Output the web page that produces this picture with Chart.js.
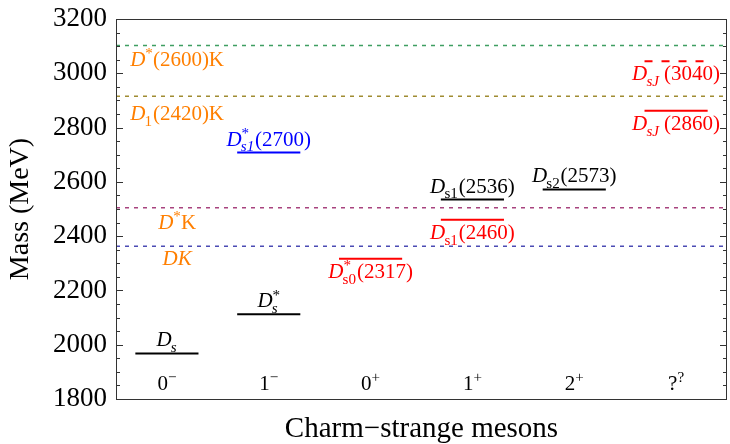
<!DOCTYPE html>
<html>
<head>
<meta charset="utf-8">
<script src="https://cdn.jsdelivr.net/npm/chart.js@4.4.1/dist/chart.umd.min.js"></script>
<style>
  html, body { margin: 0; padding: 0; background: #fff; }
  canvas { display: block; }
</style>
</head>
<body>
<canvas id="chart" width="730" height="444"></canvas>
<script>
// J^P columns along the x axis
const spins = ['0', '1', '0', '1', '2', '?'];
const parities = ['\u2212', '\u2212', '+', '+', '+', '?'];

// observed charm-strange states (markup: i: italic, b: sub, bi: italic sub, p: sup, n: normal)
const stateNames = [
  'i:D|bi:s',
  'i:D|p:*|bi:s',
  'i:D|p:*|b:s0|n:(2317)',
  'i:D|b:s1|n:(2460)',
  'i:D|b:s1|n:(2536)',
  'i:D|b:s2|n:(2573)',
  'i:D|p:*|bi:s1|n:(2700)',
  'i:D|bi:sJ|n:\u2009(2860)',
  'i:D|bi:sJ|n:\u2009(3040)'
];
const stateMasses = [1968, 2112, 2317, 2460, 2535, 2572, 2708, 2862, 3044];
const stateColumn = [0, 1, 2, 3, 3, 4, 1, 5, 5];

// two-body thresholds
const thresholdNames = ['i:DK', 'i:D|p:*|n:K', 'i:D|b:1|n:(2420)K', 'i:D|p:*|n:(2600)K'];
const thresholdMasses = [2363, 2505, 2915, 3102];

// styles
const stateColors = ['#000', '#000', '#ff0000', '#ff0000', '#000', '#000', '#0000ff', '#ff0000', '#ff0000'];
const stateDashed = [false, false, false, false, false, false, false, false, true];
const stateLabelAbove = [true, true, false, false, true, true, true, false, false];
const thresholdColors = ['#4b4bb4', '#a8437e', '#a08c32', '#3f9e62'];
const thresholdLabelDy = [19, 21, 24, 20];
const labelColor = '#ff7f00';
const FONT = '"Liberation Serif", "Times New Roman", serif';
const halfWidth = 0.31;

function parseRich(markup) {
  return markup.split('|').map(s => {
    const k = s.indexOf(':');
    return { mode: s.slice(0, k), text: s.slice(k + 1) };
  });
}

function drawRich(ctx, markup, x, baseline, size, color, align) {
  const segs = parseRich(markup);
  const items = segs.map(sg => {
    const small = sg.mode === 'b' || sg.mode === 'bi' || sg.mode === 'p';
    const fs = small ? size * 0.72 : size;
    const italic = sg.mode === 'i' || sg.mode === 'bi';
    const font = (italic ? 'italic ' : '') + fs + 'px ' + FONT;
    ctx.font = font;
    const w = ctx.measureText(sg.text).width;
    let dy = 0;
    if (sg.mode === 'b' || sg.mode === 'bi') dy = size * 0.28;
    if (sg.mode === 'p') dy = -size * 0.36;
    return { text: sg.text, font, w, dy, mode: sg.mode };
  });
  // superscript followed by subscript are stacked
  const adv = items.map((it, i) => {
    const nxt = items[i + 1];
    if (it.mode === 'p' && nxt && (nxt.mode === 'b' || nxt.mode === 'bi')) return 0;
    const prev = items[i - 1];
    if ((it.mode === 'b' || it.mode === 'bi') && prev && prev.mode === 'p') return Math.max(it.w, prev.w);
    return it.w;
  });
  const total = adv.reduce((a, b) => a + b, 0);
  let cx = align === 'left' ? x : x - total / 2;
  ctx.save();
  ctx.fillStyle = color;
  ctx.textBaseline = 'alphabetic';
  ctx.textAlign = 'left';
  items.forEach((it, i) => {
    ctx.font = it.font;
    const shift = (it.mode === 'b' || it.mode === 'bi') ? -size * 0.04 : 0;
    ctx.fillText(it.text, cx + shift, baseline + it.dy);
    cx += adv[i];
  });
  ctx.restore();
}

const datasets = [];
thresholdMasses.forEach((m, i) => {
  datasets.push({
    data: [{ x: 0, y: m }, { x: spins.length, y: m }],
    borderColor: thresholdColors[i],
    borderWidth: 1.5,
    borderDash: [4, 5],
    pointRadius: 0
  });
});
stateMasses.forEach((m, i) => {
  const c = stateColumn[i] + 0.5;
  datasets.push({
    data: [{ x: c - halfWidth, y: m }, { x: c + halfWidth, y: m }],
    borderColor: stateColors[i],
    borderWidth: 2,
    borderDash: stateDashed[i] ? [8, 9] : [],
    pointRadius: 0
  });
});

const framePlugin = {
  id: 'frame',
  afterDraw(chart) {
    const { ctx, chartArea: a, scales: { x, y } } = chart;
    ctx.save();
    ctx.strokeStyle = '#333';
    ctx.lineWidth = 1;
    ctx.strokeRect(a.left + 0.5, a.top + 0.5, a.right - a.left - 1, a.bottom - a.top);
    y.ticks.forEach(t => {
      const py = Math.round(y.getPixelForValue(t.value)) + 0.5;
      const len = t.value % 200 === 0 ? 7 : 4;
      ctx.beginPath();
      ctx.moveTo(a.left, py); ctx.lineTo(a.left + len, py);
      ctx.moveTo(a.right, py); ctx.lineTo(a.right - len, py);
      ctx.stroke();
    });
    ctx.restore();

    // J^P labels inside the plot
    spins.forEach((s, i) => {
      drawRich(ctx, 'n:' + s + '|p:' + parities[i], x.getPixelForValue(i + 0.5), a.bottom - 9, 21, '#000');
    });
    // state labels
    stateNames.forEach((n, i) => {
      const px = x.getPixelForValue(stateColumn[i] + 0.5);
      const py = y.getPixelForValue(stateMasses[i]);
      drawRich(ctx, n, px, stateLabelAbove[i] ? py - 7 : py + 19, 21, stateColors[i]);
    });
    // threshold labels
    thresholdNames.forEach((n, i) => {
      const px = x.getPixelForValue(0.6);
      const py = y.getPixelForValue(thresholdMasses[i]);
      drawRich(ctx, n, px, py + thresholdLabelDy[i], 21, labelColor);
    });
  }
};

new Chart(document.getElementById('chart'), {
  type: 'line',
  data: { datasets },
  options: {
    responsive: false,
    animation: false,
    devicePixelRatio: 1,
    layout: { padding: { top: 19, right: 3, left: 0, bottom: 0 } },
    plugins: { legend: { display: false }, tooltip: { enabled: false } },
    scales: {
      x: {
        type: 'linear',
        min: 0,
        max: spins.length,
        grid: { display: false, drawTicks: false },
        border: { display: false },
        ticks: { display: false },
        title: {
          display: true,
          text: 'Charm\u2212strange mesons',
          color: '#000',
          font: { family: FONT, size: 29, lineHeight: 1 },
          padding: { top: 0, bottom: 0 }
        },
        afterFit(scale) { scale.height = 45; }
      },
      y: {
        type: 'linear',
        min: 1800,
        max: 3200,
        grid: { display: false, drawTicks: false },
        border: { display: false },
        ticks: {
          stepSize: 50,
          autoSkip: false,
          padding: 9,
          color: '#000',
          font: { family: FONT, size: 27, lineHeight: 0.6 },
          callback: v => (v % 200 === 0 ? String(v) : '')
        },
        title: {
          display: true,
          text: 'Mass (MeV)',
          color: '#000',
          font: { family: FONT, size: 28, lineHeight: 1 },
          padding: { top: 7, bottom: 0 }
        },
        afterFit(scale) { scale.width = 116; }
      }
    }
  },
  plugins: [framePlugin]
});
</script>
</body>
</html>
